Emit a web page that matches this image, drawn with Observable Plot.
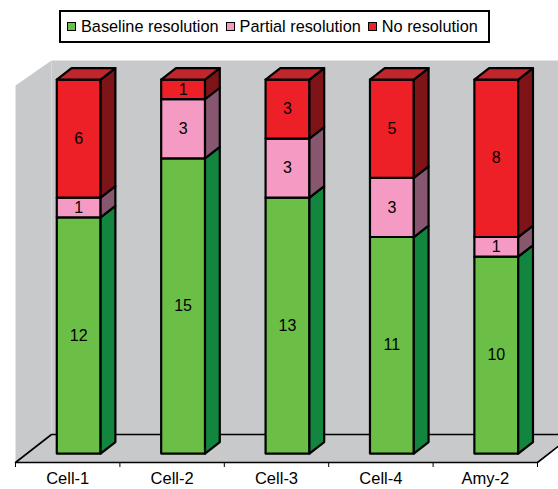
<!DOCTYPE html>
<html>
<head>
<meta charset="utf-8">
<script src="https://cdn.jsdelivr.net/npm/d3@7"></script>
<script src="https://cdn.jsdelivr.net/npm/@observablehq/plot@0.6"></script>
<style>
  html, body { margin: 0; padding: 0; background: #fff; overflow: hidden; }
  #wrap { position: relative; width: 558px; height: 489px; font-family: "Liberation Sans", Arial, Helvetica, sans-serif; }
  #legend { position: absolute; left: 59px; top: 10px; width: 427px; height: 29px; border: 2px solid #000; background: #fff;
            display: flex; align-items: center; font-size: 16.3px; color: #000; box-sizing: content-box; }
  .item { display: flex; align-items: center; margin-left: 7px; }
  .item:first-child { margin-left: 6px; }
  .sw { width: 7px; height: 7px; border: 1.5px solid #000; margin-right: 5px; }
</style>
</head>
<body>
<div id="wrap"></div>
<script>
// ---- data ----
const categories = ["Cell-1", "Cell-2", "Cell-3", "Cell-4", "Amy-2"];
const seriesNames = ["Baseline resolution", "Partial resolution", "No resolution"];
const baseline = [12, 15, 13, 11, 10];
const partial = [1, 3, 3, 3, 1];
const noResolution = [6, 1, 3, 5, 8];
const seriesValues = [baseline, partial, noResolution];
const frontColors = ["#6bbf46", "#f59bc3", "#ed2027"];
const sideColors = ["#12853f", "#87566f", "#7e1417"];
const topColors = ["#9ad476", "#f8c3da", "#c0262c"];
const wallColor = "#c8c9cb";
const wallTop = 19;

// ---- 3D oblique geometry (in scale units) ----
const DX = 36 / 104.4;     // x-units per unit of depth
const DY = 28 / 19.684;    // value-units per unit of depth
const BAR0 = 0.285, BAR1 = 0.705, Z0 = 0.32, Z1 = 0.73;
const P = (x, v, z) => ({x: x + z * DX, y: v + z * DY});

const wallRows = [];
const floorRows = [];
const barRows = [];
const labelRows = [];
function addPoly(rows, id, fill, pts) {
  pts.forEach(p => rows.push({id, fill, x: p.x, y: p.y}));
}
const n = categories.length;
addPoly(wallRows, "back", wallColor, [P(0, 0, 1), P(n + 1, 0, 1), P(n + 1, wallTop, 1), P(0, wallTop, 1)]);
addPoly(wallRows, "left", wallColor, [P(0, 0, 0), P(0, 0, 1), P(0, wallTop, 1), P(0, wallTop + 0.15, 0)]);
addPoly(floorRows, "floor", wallColor, [P(0, 0, 0), P(n, 0, 0), P(n, 0, 1), P(0, 0, 1), P(0, 0, 0)]);

categories.forEach((cat, i) => {
  let s = 0;
  const x0 = i + BAR0, x1 = i + BAR1;
  seriesValues.forEach((vals, k) => {
    const v = vals[i], e = s + v;
    const id = cat + "-" + k;
    addPoly(barRows, id + "-front", frontColors[k], [P(x0, s, Z0), P(x1, s, Z0), P(x1, e, Z0), P(x0, e, Z0), P(x0, s, Z0)]);
    addPoly(barRows, id + "-side", sideColors[k], [P(x1, s, Z0), P(x1, s, Z1), P(x1, e, Z1), P(x1, e, Z0), P(x1, s, Z0)]);
    if (k === seriesValues.length - 1) {
      addPoly(barRows, id + "-top", topColors[k], [P(x0, e, Z0), P(x1, e, Z0), P(x1, e, Z1), P(x0, e, Z1), P(x0, e, Z0)]);
    }
    const c = P((x0 + x1) / 2, s + v / 2, Z0);
    labelRows.push({x: c.x, y: c.y, text: String(v)});
    s = e;
  });
});

const chart = Plot.plot({
  width: 558,
  height: 489,
  marginLeft: 15,
  marginRight: 21,
  marginTop: 88,
  marginBottom: 27,
  style: {fontFamily: "Liberation Sans, Arial, Helvetica, sans-serif", background: "transparent", color: "#000"},
  x: {domain: [0, n], ticks: d3.range(0, n + 1), tickFormat: () => "", tickSize: 5, label: null},
  y: {domain: [0, wallTop], axis: null},
  color: {type: "identity"},
  marks: [
    Plot.line(wallRows, {x: "x", y: "y", z: "id", fill: "fill", stroke: "none"}),
    Plot.line(floorRows, {x: "x", y: "y", z: "id", fill: "fill", stroke: "#000", strokeWidth: 1.6}),
    Plot.line(barRows, {x: "x", y: "y", z: "id", fill: "fill", stroke: "#000", strokeWidth: 2.2, strokeLinejoin: "round"}),
    Plot.text(labelRows, {x: "x", y: "y", text: "text", fontSize: 16, fill: "#000"}),
    Plot.text(categories, {x: (d, i) => i + 0.5, y: () => 0, text: d => d, dy: 16.5, fontSize: 16.5, fill: "#000"})
  ]
});

const wrap = document.getElementById("wrap");
wrap.appendChild(chart);
const legend = document.createElement("div");
legend.id = "legend";
seriesNames.forEach((name, k) => {
  const item = document.createElement("div");
  item.className = "item";
  const sw = document.createElement("div");
  sw.className = "sw";
  sw.style.background = frontColors[k];
  const t = document.createElement("span");
  t.textContent = name;
  item.appendChild(sw);
  item.appendChild(t);
  legend.appendChild(item);
});
wrap.appendChild(legend);
</script>
</body>
</html>
